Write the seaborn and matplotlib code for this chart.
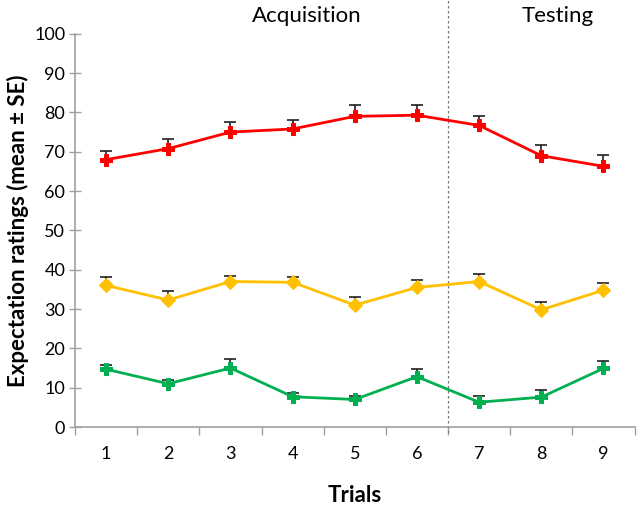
import matplotlib
matplotlib.use("Agg")
import matplotlib.pyplot as plt
import seaborn as sns
import pandas as pd
import numpy as np

trials = [1, 2, 3, 4, 5, 6, 7, 8, 9]
red_mean = [68.0, 70.8, 75.0, 75.8, 79.0, 79.3, 76.7, 69.0, 66.3]
red_se = [2.3, 2.5, 2.5, 2.3, 3.0, 2.6, 2.5, 2.8, 2.8]
yellow_mean = [36.0, 32.3, 37.0, 36.8, 31.0, 35.5, 37.0, 29.8, 34.8]
yellow_se = [2.2, 2.2, 1.5, 1.3, 2.0, 1.8, 1.8, 2.0, 1.7]
green_mean = [14.7, 11.0, 15.0, 7.7, 7.0, 12.8, 6.3, 7.6, 14.9]
green_se = [1.0, 1.0, 2.2, 1.0, 1.0, 2.0, 1.7, 1.8, 2.0]
tick_labels = ["1", "2", "3", "4", "5", "6", "7", "8", "9"]

sns.set_style("white")
plt.rcParams['font.family'] = ['Lato', 'DejaVu Sans']
plt.rcParams['text.color'] = 'black'
plt.rcParams['axes.labelcolor'] = 'black'
plt.rcParams['xtick.color'] = 'black'
plt.rcParams['ytick.color'] = 'black'

fig = plt.figure(figsize=(6.38, 5.12), dpi=100)
ax = fig.add_axes([0.1176, 0.166, 0.877, 0.768])

series = [
    ("red", red_mean, red_se, "#FF0000", "P", 9),
    ("yellow", yellow_mean, yellow_se, "#FFC000", "D", 7),
    ("green", green_mean, green_se, "#00B050", "P", 9),
]
for name, m, se, col, mk, ms in series:
    ax.errorbar(trials, m, yerr=[np.zeros(len(se)), se], fmt="none",
                ecolor="#202020", elinewidth=1.2, capsize=4, capthick=1.2, zorder=2)
    df = pd.DataFrame({"trial": trials, "value": m})
    sns.lineplot(data=df, x="trial", y="value", color=col, marker=mk,
                 markersize=ms, markeredgecolor=col, linewidth=2, ax=ax, zorder=3)

ax.set_xlim(0.5, 9.5)
ax.set_ylim(0, 100)
ax.set_yticks(np.arange(0, 101, 10))
ax.set_xticks(trials)
ax.set_xticklabels(tick_labels)
ax.set_xticks(np.arange(0.5, 9.6, 1), minor=True)
ax.tick_params(axis="x", which="major", length=0, pad=14, labelsize=13)
ax.tick_params(axis="x", which="minor", length=6, width=1, color="#a0a0a0", direction="out", bottom=True)
ax.tick_params(axis="y", length=8, width=1, color="#a0a0a0", direction="inout", labelsize=13, pad=3, left=True)

for s in ["top", "right"]:
    ax.spines[s].set_visible(False)
for s in ["left", "bottom"]:
    ax.spines[s].set_color("#a0a0a0")
    ax.spines[s].set_linewidth(1.2)

ax.axvline(6.5, ymin=-0.015, ymax=1.09, color="#777777", linestyle=(0, (2, 2)),
           linewidth=0.9, clip_on=False)

ax.set_xlabel("Trials", fontsize=16, fontweight="bold", labelpad=16)
ax.set_ylabel("Expectation ratings (mean ± SE)", fontsize=16, fontweight="bold", labelpad=4)

ax.text(4.23, 1.046, "Acquisition", transform=ax.get_xaxis_transform(),
        ha="center", va="center", fontsize=16)
ax.text(8.27, 1.046, "Testing", transform=ax.get_xaxis_transform(),
        ha="center", va="center", fontsize=16)

fig.savefig("out.png", dpi=100)
